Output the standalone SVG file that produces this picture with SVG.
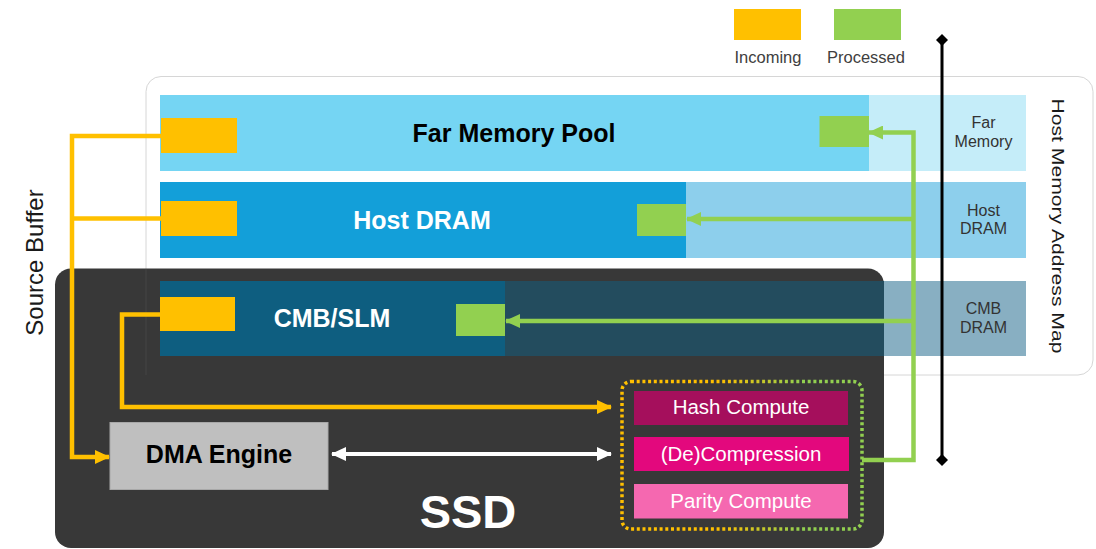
<svg xmlns="http://www.w3.org/2000/svg" width="1096" height="549" viewBox="0 0 1096 549">
<style>
.lbl{font-family:"Liberation Sans",Arial,sans-serif}
.bold{font-family:"Liberation Sans",Arial,sans-serif;font-weight:bold}
.orange{fill:#ffc000}
.green{fill:#92d050}
.oline{fill:none;stroke:#ffc000;stroke-width:4.5}
.gline{fill:none;stroke:#92d050;stroke-width:4.5}
.side{font-size:16px;fill:#333;text-anchor:middle}
.fn{font-size:20.5px;fill:#fff;text-anchor:middle}
</style>
<defs>
<marker id="ao" viewBox="0 0 15 14" refX="14" refY="7" markerWidth="15" markerHeight="14" markerUnits="userSpaceOnUse" orient="auto"><path d="M0,0 L15,7 L0,14 Z" fill="#ffc000"/></marker>
<marker id="ag" viewBox="0 0 15 14" refX="14" refY="7" markerWidth="15" markerHeight="14" markerUnits="userSpaceOnUse" orient="auto"><path d="M0,0 L15,7 L0,14 Z" fill="#92d050"/></marker>
<marker id="aw" viewBox="0 0 15 14" refX="14" refY="7" markerWidth="15" markerHeight="14" markerUnits="userSpaceOnUse" orient="auto-start-reverse"><path d="M0,0 L15,7 L0,14 Z" fill="#ffffff"/></marker>
<marker id="dm" viewBox="0 0 12 12" refX="6" refY="6" markerWidth="12" markerHeight="12" markerUnits="userSpaceOnUse" orient="auto"><path d="M6,0 L12,6 L6,12 L0,6 Z" fill="#000"/></marker>
<linearGradient id="dotg" x1="0" y1="0" x2="1" y2="0">
<stop offset="0.4" stop-color="#ffc000"/>
<stop offset="0.75" stop-color="#92d050"/>
</linearGradient>
</defs>

<g id="legend">
<rect x="734" y="9" width="67" height="31" class="orange"/>
<rect x="834" y="9" width="67" height="31" class="green"/>
<text x="768" y="63" class="lbl" font-size="16.5" fill="#404040" text-anchor="middle">Incoming</text>
<text x="866" y="63" class="lbl" font-size="16.5" fill="#404040" text-anchor="middle">Processed</text>
</g>

<g id="host-memory-map">
<rect x="146" y="76.5" width="947" height="298.5" rx="15" fill="#fff" stroke="#d6d6d6" stroke-width="1"/>
<text class="lbl" font-size="17" fill="#1a1a1a" text-anchor="middle" textLength="255" lengthAdjust="spacingAndGlyphs" transform="translate(1052,226) rotate(90)">Host Memory Address Map</text>
</g>

<g id="far-memory">
<rect x="160" y="95" width="709" height="76" fill="#75d5f3"/>
<rect x="869" y="95" width="157" height="76" fill="#c5edf9"/>
<text x="514" y="142" class="bold" font-size="25" fill="#000" text-anchor="middle">Far Memory Pool</text>
<text x="983.5" y="127.7" class="lbl side">Far</text>
<text x="983.5" y="146.7" class="lbl side">Memory</text>
<rect x="161" y="118" width="76" height="35" class="orange"/>
<rect x="819.5" y="116" width="49.5" height="31" class="green"/>
</g>

<g id="host-dram">
<rect x="160" y="182" width="526" height="76" fill="#139fd9"/>
<rect x="686" y="182" width="340" height="76" fill="#8dcfec"/>
<text x="422" y="228.5" class="bold" font-size="25" fill="#fff" text-anchor="middle">Host DRAM</text>
<text x="983.5" y="215.7" class="lbl side">Host</text>
<text x="983.5" y="234.3" class="lbl side">DRAM</text>
<rect x="161" y="201" width="76" height="35" class="orange"/>
<rect x="637" y="204" width="49" height="32" class="green"/>
</g>

<g id="cmb-dram-map">
<rect x="160" y="281" width="866" height="75" fill="#88afc2"/>
<text x="983.5" y="314.3" class="lbl side">CMB</text>
<text x="983.5" y="333.3" class="lbl side">DRAM</text>
</g>

<g id="ssd">
<rect x="55" y="268.5" width="829" height="279.5" rx="16" fill="#383838"/>
<line x1="146" y1="269" x2="146" y2="375" stroke="#444" stroke-width="1"/>
<text x="468" y="528" class="bold" font-size="47" fill="#fff" text-anchor="middle">SSD</text>
</g>

<g id="cmb-slm">
<rect x="505" y="281" width="379" height="75" fill="#234c5e"/>
<rect x="160" y="281" width="345" height="75" fill="#0e5e80"/>
<text x="332" y="326.5" class="bold" font-size="25" fill="#fff" text-anchor="middle">CMB/SLM</text>
<rect x="160" y="297" width="75" height="34" class="orange"/>
<rect x="456" y="304" width="49" height="32" class="green"/>
</g>

<g id="dma-engine">
<rect x="110" y="422.5" width="218" height="67" fill="#bfbfbf" stroke="#a8a8a8" stroke-width="1"/>
<text x="219" y="463.3" class="bold" font-size="25" fill="#000" text-anchor="middle">DMA Engine</text>
</g>

<g id="compute-engines">
<rect x="622" y="381.5" width="240" height="147.5" rx="9" fill="none" stroke="url(#dotg)" stroke-width="3.5" stroke-dasharray="3 2.7"/>
</g>
<g id="hash-compute">
<rect x="634" y="391" width="214" height="34" fill="#a50f5c"/>
<text x="741" y="414" class="lbl fn">Hash Compute</text>
</g>
<g id="decompression">
<rect x="634" y="437" width="215" height="34" fill="#e3087d"/>
<text x="741" y="461" class="lbl fn">(De)Compression</text>
</g>
<g id="parity-compute">
<rect x="634" y="484" width="214" height="34.5" fill="#f568b0"/>
<text x="741" y="508" class="lbl fn">Parity Compute</text>
</g>

<g id="source-buffer-label">
<text class="lbl" font-size="24" fill="#1a1a1a" text-anchor="middle" transform="translate(42.5,262.5) rotate(-90)">Source Buffer</text>
</g>

<g id="connectors">
<path class="oline" d="M161,136 H72 V457 H109" marker-end="url(#ao)"/>
<path class="oline" d="M161,218.5 H72"/>
<path class="oline" d="M160,314.5 H122 V407 H611" marker-end="url(#ao)"/>
<path class="gline" d="M862,460 H913.5 V132.5 H869" marker-end="url(#ag)"/>
<path class="gline" d="M913.5,219 H687" marker-end="url(#ag)"/>
<path class="gline" d="M913.5,321 H506" marker-end="url(#ag)"/>
<path d="M332,454 H611" fill="none" stroke="#fff" stroke-width="4" marker-start="url(#aw)" marker-end="url(#aw)"/>
<path d="M942,40 V460" fill="none" stroke="#000" stroke-width="3" marker-start="url(#dm)" marker-end="url(#dm)"/>
</g>
</svg>
